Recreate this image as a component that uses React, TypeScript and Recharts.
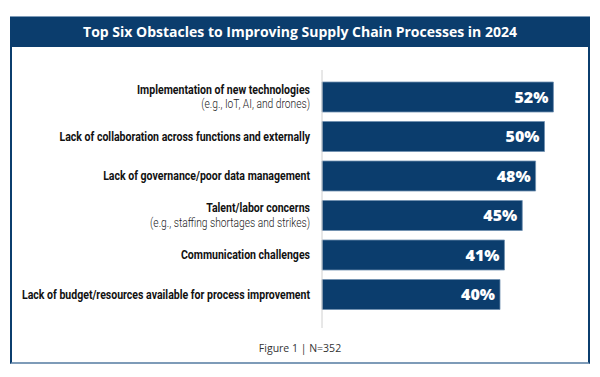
import { BarChart, Bar, XAxis, YAxis, LabelList } from "recharts";

const categories = [
  "Implementation of new technologies",
  "Lack of collaboration across functions and externally",
  "Lack of governance/poor data management",
  "Talent/labor concerns",
  "Communication challenges",
  "Lack of budget/resources available for process improvement",
];
const subLabels = [
  "(e.g., IoT, AI, and drones)",
  "",
  "",
  "(e.g., staffing shortages and strikes)",
  "",
  "",
];
const values = [52, 50, 48, 45, 41, 40];

const NAVY = "#0b3d6d";
const LABEL_FONT = "Roboto, 'Noto Sans', sans-serif";

const data = categories.map((name, i) => ({ name, sub: subLabels[i], value: values[i] }));

// two-line category label, right aligned next to the axis, squeezed to look condensed
function CategoryTick(props: any) {
  const { x, y, payload, index } = props;
  const sub = data[index]?.sub ?? "";
  const ax = x - 4;
  return (
    <g>
      <g transform={`translate(${ax},${sub ? y - 7.5 : y}) scale(0.8,1)`}>
        <text x={0} y={0} dy={4.6} textAnchor="end" fontFamily={LABEL_FONT} fontWeight={700} fontSize={13.2} fill="#111">
          {payload.value}
        </text>
      </g>
      {sub && (
        <g transform={`translate(${ax},${y + 7}) scale(0.82,1)`}>
          <text x={0} y={0} dy={4.3} textAnchor="end" fontFamily={LABEL_FONT} fontWeight={300} fontSize={12.5} fill="#222">
            {sub}
          </text>
        </g>
      )}
    </g>
  );
}

export default function App() {
  return (
    <div style={{ position: "absolute", left: 0, top: 0, width: 600, height: 377, background: "#fff" }}>
      <div
        style={{
          position: "absolute",
          left: 10,
          top: 16,
          width: 576,
          height: 346,
          borderLeft: `2px solid ${NAVY}`,
          borderRight: `2px solid ${NAVY}`,
          borderBottom: "2px solid #7e9bb8",
        }}
      />
      <div
        style={{
          position: "absolute",
          left: 10,
          top: 16,
          width: 580,
          height: 31,
          background: NAVY,
          borderTop: "1px solid #7e9bb8",
          boxSizing: "border-box",
          color: "#fff",
          fontFamily: "'Open Sans', sans-serif",
          fontWeight: 700,
          fontSize: 14,
          lineHeight: "30px",
          textAlign: "center",
        }}
      >
        Top Six Obstacles to Improving Supply Chain Processes in 2024
      </div>
      <div style={{ position: "absolute", left: 0, top: 0 }}>
        <BarChart
          width={600}
          height={377}
          data={data}
          layout="vertical"
          margin={{ top: 70, right: 11, bottom: 49, left: 0 }}
          barCategoryGap={9}
        >
          <XAxis type="number" domain={[0, 60]} hide />
          <YAxis
            type="category"
            dataKey="name"
            width={322}
            axisLine={{ stroke: "#d0d0d0" }}
            tickLine={false}
            padding={{ top: 7, bottom: 14 }}
            interval={0}
            tick={<CategoryTick />}
          />
          <Bar dataKey="value" fill={NAVY} stroke="#6f8fb0" strokeWidth={0.8} barSize={30} isAnimationActive={false}>
            <LabelList
              dataKey="value"
              position="insideRight"
              offset={5}
              formatter={(v: any) => `${v}%`}
              fill="#fff"
              fontFamily="'Open Sans', sans-serif"
              fontWeight={800}
              fontSize={16}
            />
          </Bar>
        </BarChart>
      </div>
      <div
        style={{
          position: "absolute",
          left: 0,
          top: 341,
          width: 600,
          textAlign: "center",
          fontFamily: "'Open Sans', sans-serif",
          fontSize: 10.5,
          color: "#333",
        }}
      >
        Figure 1 | N=352
      </div>
    </div>
  );
}
